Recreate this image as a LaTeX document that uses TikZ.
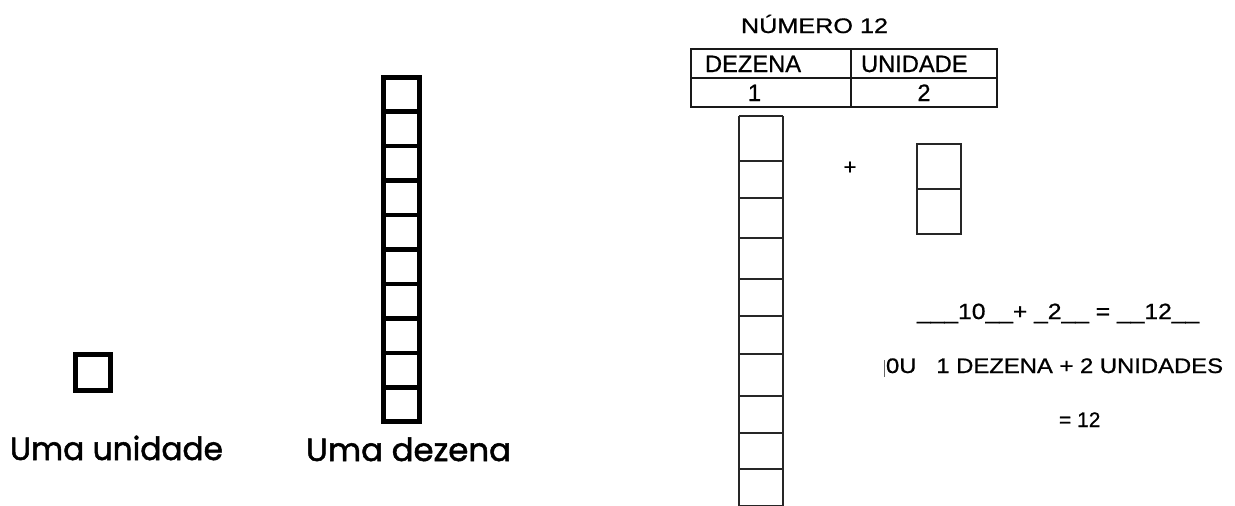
\documentclass[tikz,border=0pt]{standalone}
\usepackage{fontspec}
\setmainfont{Liberation Sans}
\newfontfamily\heavyfont[FakeBold=0.7]{Liberation Sans}
\newfontfamily\comicfont[FakeBold=1.6]{Poppins}
\newcommand\fitw[2]{\resizebox{#1pt}{\height}{#2}}
\tikzset{
  txt/.style={inner sep=0pt, outer sep=0pt, anchor=base west},
  thickbox/.style={draw=black, line width=4.6pt},
  thinbox/.style={draw=black!85, line width=1.5pt},
  tabline/.style={draw=black!90, line width=1.2pt},
}
\begin{document}
\begin{tikzpicture}[x=1pt,y=-1pt]
\useasboundingbox (0,0) rectangle (1235,506);
\clip (0,0) rectangle (1235,506);
\fill[white] (0,0) rectangle (1235,506);
% single unit
\draw[line width=5pt] (75.5,354.5) rectangle (110.5,390.5);
% ten column (left)
\draw[thickbox] (383.3,77.3) rectangle (419.7,421.7);
\foreach \k in {1,...,9}{
  \draw[thickbox] (383.3,77.3+\k*34.44) -- (419.7,77.3+\k*34.44);
}
\node[txt, font=\comicfont\fontsize{32}{36}\selectfont] (lu) at (10,460) {\fitw{213}{Uma unidade}};
\node[txt, font=\comicfont\fontsize{32}{36}\selectfont] (ld) at (306,461) {\fitw{205}{Uma dezena}};
% title and table
\node[txt, font=\heavyfont\fontsize{21}{24}\selectfont] (title) at (741,33) {\scalebox{1.2}[1]{NÚMERO 12}};
\draw[tabline] (691,49) rectangle (997,107);
\draw[tabline] (691,78) -- (997,78);
\draw[tabline] (851,49) -- (851,107);
\node[txt, font=\heavyfont\fontsize{23.7}{27}\selectfont] (hd) at (705,72) {DEZENA};
\node[txt, font=\heavyfont\fontsize{23.7}{27}\selectfont] (hu) at (861,72) {UNIDADE};
\node[inner sep=0pt, anchor=base, font=\heavyfont\fontsize{23.7}{27}\selectfont] (v1) at (754.5,101) {1};
\node[inner sep=0pt, anchor=base, font=\heavyfont\fontsize{23.7}{27}\selectfont] (v2) at (924,101) {2};
% ten column (right)
\draw[thinbox] (739,116) -- (783,116);
\draw[thinbox] (739,116) -- (739,512);
\draw[thinbox] (783,116) -- (783,512);
\foreach \yy in {161,198,238,279,316,354,396,433,469,506}{
  \draw[thinbox] (739,\yy) -- (783,\yy);
}
% plus and two units
\node[inner sep=0pt, font=\heavyfont\fontsize{22}{24}\selectfont] (plus) at (850,168) {+};
\draw[thinbox] (917,144) rectangle (961,234);
\draw[thinbox] (917,189) -- (961,189);
% equations
\node[txt, font=\heavyfont\fontsize{22}{26}\selectfont] (eq1) at (917,319) {\scalebox{1.12}[1]{\_\_\_10\_\_+ \_2\_\_ = \_\_12\_\_}};
\draw[black!60, line width=1pt] (884,360) -- (884,377);
\node[txt, font=\heavyfont\fontsize{21}{24}\selectfont] (eq2) at (886,373) {\scalebox{1.135}[1]{0U\ \ \ 1 DEZENA + 2 UNIDADES}};
\node[txt, font=\heavyfont\fontsize{21}{24}\selectfont] (eq3) at (1059,427) {= 12};
\end{tikzpicture}
\end{document}
